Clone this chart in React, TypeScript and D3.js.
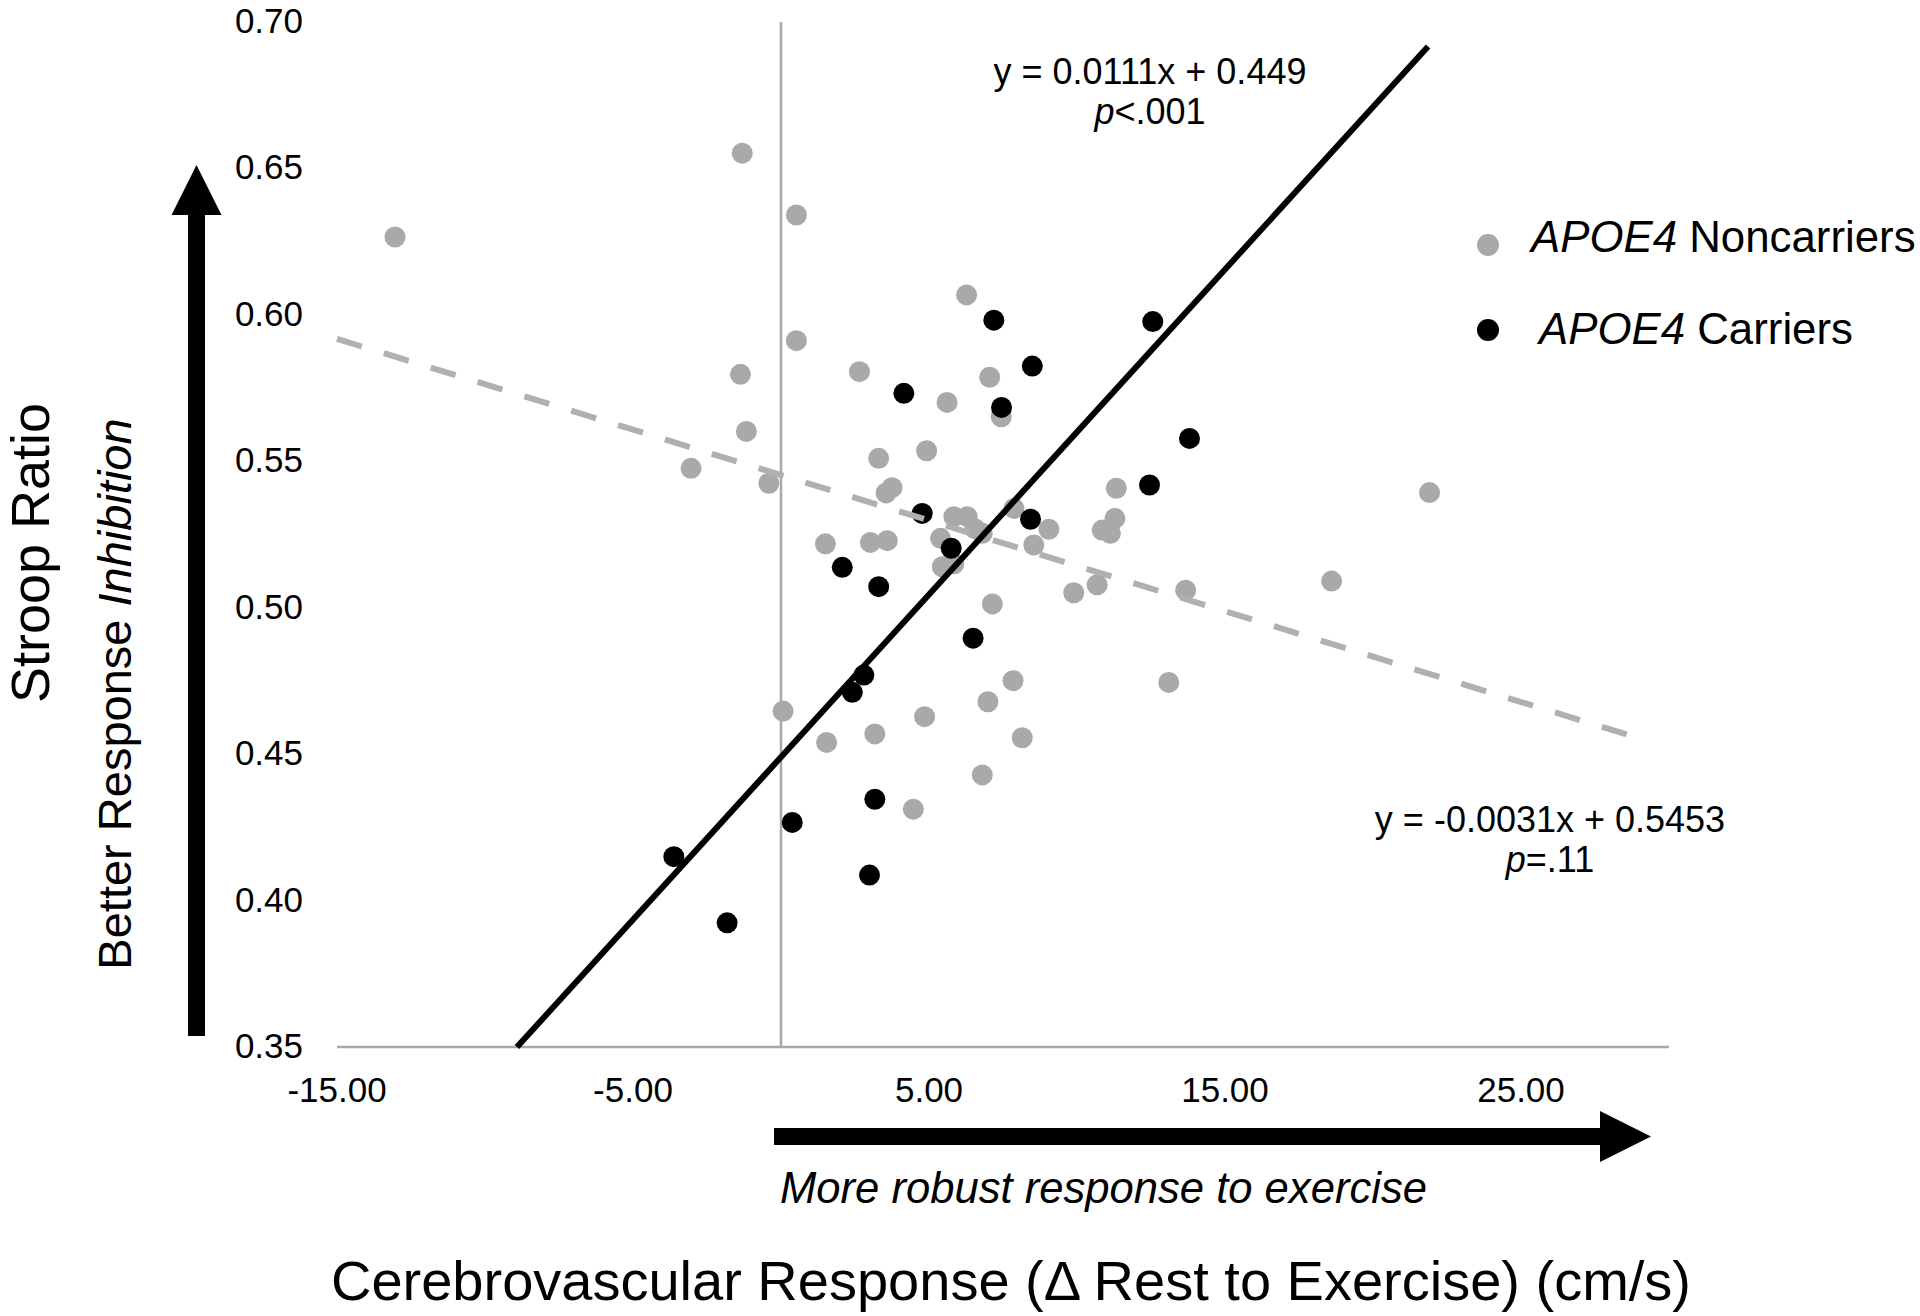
import React from "react";
import * as d3 from "d3";

// ---- data ----
const noncarrierX = [-13.04, -1.31, 0.52, 0.52, -1.37, -1.17, -3.04, -0.41, 2.65, 3.30, 3.55, 3.75, 4.92, 5.61, 6.27, 7.05, 7.44, 11.33, 1.50, 3.02, 3.59, 5.84, 6.29, 5.39, 6.55, 6.80, 7.87, 9.05, 8.54, 11.28, 10.85, 11.13, 5.45, 5.84, 7.14, 9.89, 10.68, 13.67, 7.84, 6.99, 13.10, 0.07, 4.85, 3.17, 1.54, 8.15, 6.80, 4.47, 18.60, 21.91];
const noncarrierY = [0.6266, 0.6552, 0.6341, 0.5912, 0.5797, 0.5602, 0.5476, 0.5425, 0.5806, 0.5510, 0.5392, 0.5410, 0.5536, 0.5701, 0.6068, 0.5787, 0.5652, 0.5408, 0.5218, 0.5223, 0.5229, 0.5311, 0.5311, 0.5237, 0.5270, 0.5254, 0.5339, 0.5268, 0.5214, 0.5305, 0.5265, 0.5254, 0.5140, 0.5150, 0.5013, 0.5051, 0.5078, 0.5060, 0.4751, 0.4679, 0.4745, 0.4647, 0.4628, 0.4569, 0.4540, 0.4556, 0.4429, 0.4312, 0.5091, 0.5393];
const carrierX = [7.19, 4.15, 8.49, 7.45, 12.56, 13.80, 12.45, 4.77, 8.43, 5.75, 2.07, 3.30, 6.49, 2.80, 2.41, 3.17, 0.38, 2.99, -3.62, -1.82];
const carrierY = [0.5982, 0.5732, 0.5825, 0.5684, 0.5977, 0.5578, 0.5419, 0.5322, 0.5302, 0.5203, 0.5138, 0.5072, 0.4896, 0.4770, 0.4711, 0.4346, 0.4267, 0.4087, 0.4150, 0.3924];

const xDomain = [-15, 30];
const yDomain = [0.35, 0.7];
const xTicks = [-15, -5, 5, 15, 25];
const yTicks = [0.35, 0.4, 0.45, 0.5, 0.55, 0.6, 0.65, 0.7];

// trendlines: slope, intercept, x-range
const carrierTrend = { slope: 0.0111, intercept: 0.449, from: -8.92, to: 21.86 };
const noncarrierTrend = { slope: -0.0031, intercept: 0.5453, from: -15, to: 29.3 };

const FONT = "'Liberation Sans', Arial, Helvetica, sans-serif";
const GRAY = "#a9a9a9";
const fmt = (v: number) => v.toFixed(2);

export default function App() {
  const x = d3.scaleLinear().domain(xDomain).range([337, 1669]);
  const y = d3.scaleLinear().domain(yDomain).range([1047, 22]);
  const line = d3
    .line<[number, number]>()
    .x((d) => x(d[0]))
    .y((d) => y(d[1]));
  const trendPts = (t: typeof carrierTrend): [number, number][] => [
    [t.from, t.slope * t.from + t.intercept],
    [t.to, t.slope * t.to + t.intercept],
  ];
  const gray = noncarrierX.map((v, i) => [v, noncarrierY[i]]);
  const black = carrierX.map((v, i) => [v, carrierY[i]]);

  return (
    <svg
      width={1920}
      height={1316}
      style={{ position: "absolute", left: 0, top: 0, background: "#fff" }}
      fontFamily={FONT}
    >
      <rect width={1920} height={1316} fill="#fff" />
      {/* axes */}
      <line x1={x(0)} x2={x(0)} y1={y(0.7)} y2={y(0.35)} stroke={GRAY} strokeWidth={2.5} />
      <line x1={x(-15)} x2={x(30)} y1={y(0.35)} y2={y(0.35)} stroke={GRAY} strokeWidth={2.5} />

      {/* y tick labels */}
      {yTicks.map((t) => (
        <text key={t} x={303} y={y(t) + 11} fontSize={35} textAnchor="end" fill="#000">
          {fmt(t)}
        </text>
      ))}
      {/* x tick labels */}
      {xTicks.map((t) => (
        <text key={t} x={x(t)} y={1102} fontSize={35} textAnchor="middle" fill="#000">
          {fmt(t)}
        </text>
      ))}

      {/* points */}
      {gray.map((d, i) => (
        <circle key={"g" + i} cx={x(d[0])} cy={y(d[1])} r={10.5} fill={GRAY} />
      ))}
      {black.map((d, i) => (
        <circle key={"b" + i} cx={x(d[0])} cy={y(d[1])} r={10.5} fill="#000" />
      ))}

      {/* trendlines */}
      <path
        d={line(trendPts(noncarrierTrend)) || ""}
        stroke="#b0b0b0"
        strokeWidth={6}
        strokeDasharray="26 23"
        fill="none"
      />
      <path d={line(trendPts(carrierTrend)) || ""} stroke="#000" strokeWidth={6} fill="none" />

      {/* equations */}
      <text x={1150} y={84} fontSize={36} textAnchor="middle">y = 0.0111x + 0.449</text>
      <text x={1150} y={124} fontSize={36} textAnchor="middle">
        <tspan fontStyle="italic">p</tspan>&lt;.001
      </text>
      <text x={1550} y={832} fontSize={36} textAnchor="middle">y = -0.0031x + 0.5453</text>
      <text x={1550} y={872} fontSize={36} textAnchor="middle">
        <tspan fontStyle="italic">p</tspan>=.11
      </text>

      {/* legend */}
      <circle cx={1488} cy={245} r={11} fill={GRAY} />
      <text x={1531} y={252} fontSize={43.8}>
        <tspan fontStyle="italic">APOE4</tspan> Noncarriers
      </text>
      <circle cx={1488} cy={330} r={11} fill="#000" />
      <text x={1539} y={344} fontSize={43.8}>
        <tspan fontStyle="italic">APOE4</tspan> Carriers
      </text>

      {/* vertical arrow */}
      <rect x={188} y={210} width={17} height={826} fill="#000" />
      <polygon points="196.5,165 171.5,215 221.5,215" fill="#000" />
      {/* horizontal arrow */}
      <rect x={774} y={1128} width={830} height={17} fill="#000" />
      <polygon points="1651,1136.5 1600,1111 1600,1162" fill="#000" />

      {/* axis titles */}
      <text
        transform="translate(49,553) rotate(-90)"
        fontSize={54}
        textAnchor="middle"
      >
        Stroop Ratio
      </text>
      <text
        transform="translate(131,694) rotate(-90)"
        fontSize={47}
        textAnchor="middle"
      >
        Better Response <tspan fontStyle="italic">Inhibition</tspan>
      </text>
      <text x={780} y={1203} fontSize={43.6} fontStyle="italic">
        More robust response to exercise
      </text>
      <text x={1011} y={1300} fontSize={56} textAnchor="middle">
        Cerebrovascular Response (Δ Rest to Exercise) (cm/s)
      </text>
    </svg>
  );
}
